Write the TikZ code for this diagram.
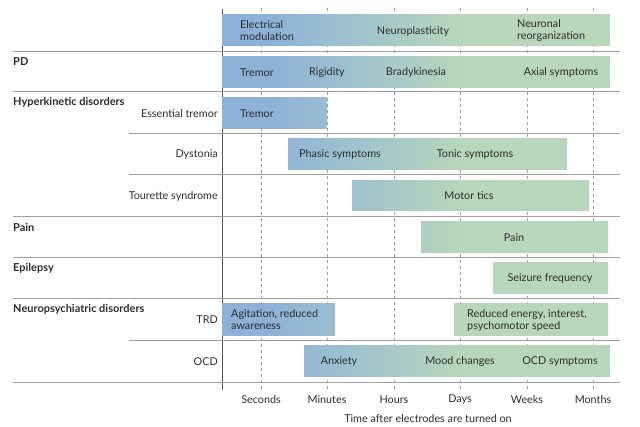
\documentclass[tikz,border=0pt]{standalone}
\usepackage{fontspec}
\setmainfont{Lato}
\definecolor{barblue}{RGB}{141,177,215}
\definecolor{barteal}{RGB}{162,197,204}
\definecolor{bargreen}{RGB}{184,214,186}
\definecolor{inkgray}{RGB}{45,45,45}
\definecolor{rulegray}{RGB}{160,160,160}
\pgfdeclarehorizontalshading{timeshade}{100bp}{color(0bp)=(barblue); color(31bp)=(barblue); color(44bp)=(barteal); color(56bp)=(bargreen); color(100bp)=(bargreen)}

\begin{document}
\begin{tikzpicture}[x=1pt, y=-1pt, font=\fontsize{10.8}{12}\selectfont, text=inkgray,
    bar/.style={anchor=north west, inner sep=0pt, outer sep=0pt, minimum height=31pt,
      path picture={\shade[shading=timeshade] (gl |- path picture bounding box.north) rectangle (gr |- path picture bounding box.south);}},
    txt/.style={inner sep=0pt},
    twoline/.style={inner sep=0pt, anchor=west, align=left, font=\fontsize{10.8}{12}\selectfont},
    group/.style={inner sep=0pt, anchor=west, font=\fontsize{11}{12}\selectfont\bfseries},
    sub/.style={inner sep=0pt, anchor=east},
    grid/.style={rulegray, line width=0.5pt, dash pattern=on 3pt off 3pt},
    sep/.style={rulegray, line width=1pt}]
        \useasboundingbox (0,0) rectangle (640,427);
        \coordinate (gl) at (222,0);
        \coordinate (gr) at (610,0);

        % time grid and axis labels
        \foreach \x/\t in {261/Seconds, 327/Minutes, 394/Hours, 460/Days, 527/Weeks, 593/Months} {
            \draw[grid] (\x,8) -- (\x,390);
            \node[txt] (tick\t) at (\x,400) {\t};
        }
        \node[txt] (xtitle) at (428,419) {Time after electrodes are turned on};
        \draw[inkgray!80, line width=0.7pt] (222,9) -- (222,390);

        % row separators
        \foreach \y in {52, 92, 217, 258, 299, 383}
            \draw[sep] (13,\y) -- (620,\y);
        \foreach \y in {134, 175, 341}
            \draw[sep] (129,\y) -- (620,\y);

        % bars
        \node[bar, minimum width=388pt] (modbar) at (222,15) {};
        \node[bar, minimum width=388pt] (pdbar) at (222,57) {};
        \node[bar, minimum width=105pt] (etbar) at (222,98) {};
        \node[bar, minimum width=279pt] (dysbar) at (288,139) {};
        \node[bar, minimum width=237pt, minimum height=30pt] (tsbar) at (352,181) {};
        \node[bar, minimum width=187pt] (painbar) at (421,222) {};
        \node[bar, minimum width=115pt] (epibar) at (493,263) {};
        \node[bar, minimum width=113pt, minimum height=32pt] (trdbarA) at (222,304) {};
        \node[bar, minimum width=154pt, minimum height=32pt] (trdbarB) at (454,304) {};
        \node[bar, minimum width=306pt] (ocdbar) at (304,346) {};

        % texts in bars
        \node[twoline] (modA) at (240,31) {Electrical\\modulation};
        \node[txt] (modB) at (413,31) {Neuroplasticity};
        \node[twoline] (modC) at (517,31) {Neuronal\\reorganization};
        \node[txt] (pdA) at (257,72.5) {Tremor};
        \node[txt] (pdB) at (327,72.5) {Rigidity};
        \node[txt] (pdC) at (416,72.5) {Bradykinesia};
        \node[txt] (pdD) at (561,72.5) {Axial symptoms};
        \node[txt] (etA) at (257,113.5) {Tremor};
        \node[txt] (dysA) at (340,154.5) {Phasic symptoms};
        \node[txt] (dysB) at (475,154.5) {Tonic symptoms};
        \node[txt] (tsA) at (469,196) {Motor tics};
        \node[txt] (painA) at (514,237.5) {Pain};
        \node[txt] (epiA) at (550,278.5) {Seizure frequency};
        \node[twoline] (trdA) at (231,320) {Agitation, reduced\\awareness};
        \node[twoline] (trdB) at (467,320) {Reduced energy, interest,\\psychomotor speed};
        \node[txt] (ocdA) at (339,361.5) {Anxiety};
        \node[txt] (ocdB) at (460,361.5) {Mood changes};
        \node[txt] (ocdC) at (560,361.5) {OCD symptoms};

        % row labels
        \node[group] (pd) at (13,62) {PD};
        \node[group] (hyper) at (13,102) {Hyperkinetic disorders};
        \node[sub] (et) at (218,113.5) {Essential tremor};
        \node[sub] (dys) at (218,154.5) {Dystonia};
        \node[sub] (ts) at (218,196) {Tourette syndrome};
        \node[group] (pain) at (13,227) {Pain};
        \node[group] (epi) at (13,268) {Epilepsy};
        \node[group] (neuro) at (13,309) {Neuropsychiatric disorders};
        \node[sub] (trd) at (218,320) {TRD};
        \node[sub] (ocd) at (218,361.5) {OCD};

    \end{tikzpicture}
\end{document}
